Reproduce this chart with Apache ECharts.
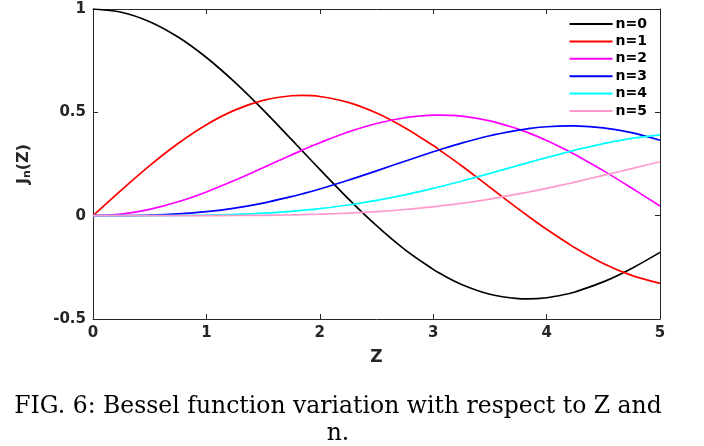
<!DOCTYPE html>
<html>
<head>
<meta charset="utf-8">
<script src="https://cdn.jsdelivr.net/npm/echarts@6/dist/echarts.min.js"></script>
<style>
  html, body { margin: 0; padding: 0; background: #fff; }
  #chart { width: 704px; height: 446px; }
</style>
</head>
<body>
<div id="chart"></div>
<script>
// Z values (x axis), with extra samples at the turning points
const zValues = [0, 0.25, 0.5, 0.75, 1, 1.25, 1.5, 1.75, 1.84, 2, 2.25, 2.5, 2.75, 3, 3.05, 3.25, 3.5, 3.75, 3.83, 4, 4.2, 4.25, 4.5, 4.75, 5];

// J_n(Z)
const j0 = [1, 0.9844, 0.9385, 0.8642, 0.7652, 0.6459, 0.5118, 0.3690, 0.3166, 0.2239, 0.0827, -0.0484, -0.1641, -0.2601, -0.2766, -0.3328, -0.3801, -0.4014, -0.4028, -0.3972, -0.3765, -0.3692, -0.3205, -0.2552, -0.1776];
const j1 = [0, 0.1240, 0.2423, 0.3492, 0.4401, 0.5106, 0.5579, 0.5802, 0.5819, 0.5767, 0.5485, 0.4971, 0.4259, 0.3391, 0.3202, 0.2414, 0.1374, 0.0329, 0.0007, -0.0660, -0.1385, -0.1556, -0.2311, -0.2890, -0.3276];
const j2 = [0, 0.0078, 0.0306, 0.0671, 0.1149, 0.1711, 0.2321, 0.2940, 0.3159, 0.3528, 0.4048, 0.4461, 0.4739, 0.4861, 0.4866, 0.4813, 0.4586, 0.4190, 0.4032, 0.3641, 0.3106, 0.2960, 0.2179, 0.1336, 0.0466];
const j3 = [0, 0.0003, 0.0026, 0.0087, 0.0196, 0.0368, 0.0610, 0.0919, 0.1048, 0.1289, 0.1712, 0.2166, 0.2634, 0.3091, 0.3180, 0.3510, 0.3868, 0.4140, 0.4204, 0.4302, 0.4343, 0.4341, 0.4247, 0.4015, 0.3648];
const j4 = [0, 0.0000, 0.0002, 0.0008, 0.0025, 0.0059, 0.0119, 0.0209, 0.0252, 0.0340, 0.0517, 0.0738, 0.1008, 0.1320, 0.1390, 0.1667, 0.2044, 0.2435, 0.2554, 0.2811, 0.3098, 0.3170, 0.3484, 0.3736, 0.3912];
const j5 = [0, 0.0000, 0.0000, 0.0001, 0.0002, 0.0007, 0.0018, 0.0037, 0.0048, 0.0070, 0.0121, 0.0195, 0.0298, 0.0430, 0.0466, 0.0593, 0.0804, 0.1055, 0.1135, 0.1321, 0.1558, 0.1625, 0.1947, 0.2277, 0.2611];

const seriesNames = ['n=0', 'n=1', 'n=2', 'n=3', 'n=4', 'n=5'];
const seriesData = [j0, j1, j2, j3, j4, j5];
const colors = ['#000000', '#ff0000', '#ff00ff', '#0000ff', '#00ffff', '#ff99cc'];

const xTicks = [0, 1, 2, 3, 4, 5];
const yTicks = [-0.5, 0, 0.5, 1];

const chart = echarts.init(document.getElementById('chart'));

const sans = 'DejaVu Sans, Liberation Sans, Arial';
const axisText = { color: '#262626', fontWeight: 'bold', fontSize: 15, fontFamily: sans };
const boxLine = { show: true, onZero: false, lineStyle: { color: '#262626', width: 1 } };
const inTicks = { show: true, inside: true, length: 5, lineStyle: { color: '#262626' } };

const option = {
  animation: false,
  color: colors,
  grid: { left: 93, right: 44, top: 9, bottom: 127, containLabel: false },
  title: {
    text: 'FIG. 6: Bessel function variation with respect to Z and\nn.',
    left: 333,
    top: 388,
    textAlign: 'center',
    textStyle: {
      fontFamily: 'DejaVu Serif, Liberation Serif, serif',
      fontWeight: 'normal',
      fontSize: 23.5,
      lineHeight: 27,
      color: '#000'
    }
  },
  legend: {
    orient: 'vertical',
    right: 52,
    top: 12,
    itemWidth: 43,
    itemHeight: 14,
    itemGap: 3.4,
    itemStyle: { opacity: 0 },
    textStyle: { color: '#000', fontWeight: 'bold', fontSize: 14, lineHeight: 14, fontFamily: sans, padding: [0, 0, 0, -2] },
    data: seriesNames
  },
  xAxis: [{
    type: 'value',
    min: 0, max: 5, interval: 1,
    name: 'Z',
    nameLocation: 'middle',
    nameGap: 30,
    nameTextStyle: { color: '#262626', fontWeight: 'bold', fontSize: 17, fontFamily: sans },
    axisLine: boxLine,
    axisTick: inTicks,
    axisLabel: Object.assign({ margin: 7, formatter: v => xTicks.includes(v) ? String(v) : '' }, axisText),
    splitLine: { show: false }
  }, {
    type: 'value',
    position: 'top',
    min: 0, max: 5, interval: 1,
    axisLine: boxLine,
    axisTick: inTicks,
    axisLabel: { show: false },
    splitLine: { show: false }
  }],
  yAxis: [{
    type: 'value',
    min: -0.5, max: 1, interval: 0.5,
    name: '{j|J}{n|n}{j|(Z)}',
    nameLocation: 'middle',
    nameGap: 60,
    nameRotate: 90,
    nameTextStyle: {
      rich: {
        j: { color: '#262626', fontWeight: 'bold', fontSize: 16, fontFamily: sans },
        n: { color: '#262626', fontWeight: 'bold', fontSize: 11, fontFamily: sans, verticalAlign: 'bottom', padding: [8, 0, 0, 0] }
      }
    },
    axisLine: boxLine,
    axisTick: inTicks,
    axisLabel: Object.assign({ margin: 7, formatter: v => yTicks.includes(v) ? String(v) : '' }, axisText),
    splitLine: { show: false }
  }, {
    type: 'value',
    position: 'right',
    min: -0.5, max: 1, interval: 0.5,
    axisLine: boxLine,
    axisTick: inTicks,
    axisLabel: { show: false },
    splitLine: { show: false }
  }],
  series: seriesNames.map((name, i) => ({
    name: name,
    type: 'line',
    smooth: 0.33,
    symbol: 'none',
    lineStyle: { width: 1.7, color: colors[i] },
    data: zValues.map((z, k) => [z, seriesData[i][k]])
  }))
};

chart.setOption(option);
</script>
</body>
</html>
